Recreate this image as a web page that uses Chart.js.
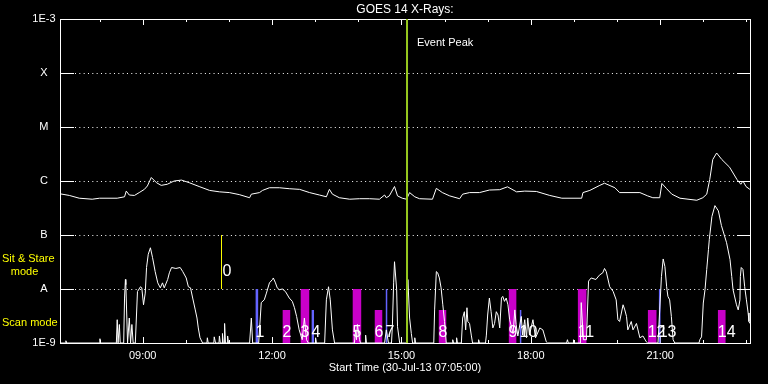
<!DOCTYPE html>
<html><head><meta charset="utf-8">
<script src="https://cdn.jsdelivr.net/npm/chart.js@4/dist/chart.umd.min.js"></script>
<style>html,body{margin:0;padding:0;background:#000;overflow:hidden}canvas{display:block}</style>
</head><body>
<canvas id="c" width="768" height="384"></canvas>
<script>
const FONT = "'Liberation Sans', Arial, sans-serif";
const startHour = 7 + 5/60, endHour = 23 + 5/60;
const yTickValues = [1e-9, 1e-8, 1e-7, 1e-6, 1e-5, 1e-4, 1e-3];
const yTickLabels = ['1E-9', 'A', 'B', 'C', 'M', 'X', '1E-3'];
const gridLevels = [1e-8, 1e-7, 1e-6, 1e-5, 1e-4];
const xLabelHours = [9, 12, 15, 18, 21];
const xLabelTexts = ['09:00', '12:00', '15:00', '18:00', '21:00'];
const xMinorHours = [8, 9, 10, 11, 12, 13, 14, 15, 16, 17, 18, 19, 20, 21, 22, 23];

// GOES 14 long channel (1-8 A), [hour, W/m^2]
const longChannel = [
[7.08,5.8e-7],[7.30,5.4e-7],[7.53,4.8e-7],[7.83,4.6e-7],[8.00,4.8e-7],[8.41,4.8e-7],[8.58,5.1e-7],[8.62,6.5e-7],
[8.69,5.5e-7],[8.81,5.4e-7],[8.92,6.1e-7],[9.04,7.0e-7],[9.11,8.1e-7],[9.20,1.16e-6],[9.32,9.3e-7],[9.43,8.3e-7],
[9.57,8.7e-7],[9.73,1.0e-6],[9.90,1.04e-6],[10.08,9.3e-7],[10.31,7.9e-7],[10.55,6.7e-7],[10.78,6.3e-7],[11.01,6.1e-7],
[11.24,5.6e-7],[11.48,4.9e-7],[11.52,5.7e-7],[11.71,6.1e-7],[11.78,6.7e-7],[11.94,7.5e-7],[12.17,7.5e-7],[12.40,7.2e-7],
[12.64,7.0e-7],[12.87,6.1e-7],[13.10,5.5e-7],[13.26,5.1e-7],[13.33,7.0e-7],[13.40,5.7e-7],[13.56,4.9e-7],[13.80,4.6e-7],
[14.03,4.7e-7],[14.26,4.7e-7],[14.49,4.6e-7],[14.61,5.5e-7],[14.65,4.9e-7],[14.72,5.3e-7],[14.84,7.9e-7],[14.91,5.3e-7],
[15.02,4.8e-7],[15.12,4.6e-7],[15.19,6.1e-7],[15.31,5.1e-7],[15.42,4.7e-7],[15.72,4.6e-7],[15.81,7.3e-7],[15.95,6.1e-7],
[16.12,5.3e-7],[16.35,4.7e-7],[16.42,5.7e-7],[16.58,6.1e-7],[16.81,6.1e-7],[17.04,6.8e-7],[17.28,6.9e-7],[17.46,7.8e-7],
[17.67,6.3e-7],[17.86,6.5e-7],[18.13,6.4e-7],[18.44,5.4e-7],[18.72,4.8e-7],[19.18,4.8e-7],[19.21,6.1e-7],[19.37,6.7e-7],
[19.60,8.3e-7],[19.71,9.1e-7],[19.95,7.5e-7],[20.06,6.1e-7],[20.53,6.1e-7],[20.71,5.3e-7],[20.83,4.9e-7],[20.99,4.9e-7],
[21.04,9.0e-7],[21.15,7.2e-7],[21.27,5.7e-7],[21.46,4.8e-7],[21.85,4.4e-7],[21.99,4.9e-7],[22.08,5.7e-7],[22.15,1.07e-6],
[22.22,2.5e-6],[22.31,3.3e-6],[22.43,2.5e-6],[22.61,1.8e-6],[22.78,1.07e-6],[22.87,8.7e-7],[22.92,1.0e-6],[22.99,7.9e-7],
[23.08,7.0e-7]
];

// GOES 14 short channel (0.5-4 A), [hour, W/m^2]
const shortChannel = [
[7.08,1e-9],[7.21,1e-9],[7.22,1.1e-9],[7.24,1e-9],[8.00,1e-9],[8.01,1.2e-9],[8.02,1e-9],
[8.39,1e-9],[8.41,2.7e-9],[8.43,1e-9],[8.46,2.2e-9],[8.48,1e-9],
[8.56,1e-9],[8.58,6.8e-9],[8.60,1.5e-8],[8.61,1.2e-8],[8.65,1e-9],
[8.69,2.9e-9],[8.72,1e-9],[8.75,2.2e-9],[8.78,1e-9],[8.83,1e-9],
[8.88,9.0e-9],[8.95,1.1e-8],[8.98,1.05e-8],[9.02,5.1e-9],[9.06,8.4e-9],[9.09,2.5e-8],[9.13,4.4e-8],[9.18,5.8e-8],
[9.23,3.8e-8],[9.29,2.1e-8],[9.35,1.3e-8],[9.41,1.05e-8],[9.46,1.3e-8],[9.50,1.05e-8],[9.58,1.5e-8],[9.62,2.0e-8],
[9.67,2.5e-8],[9.77,2.4e-8],[9.87,2.5e-8],[9.93,2.1e-8],[10.01,1.6e-8],[10.06,1.1e-8],[10.11,1.05e-8],[10.16,6.8e-9],
[10.22,4.1e-9],[10.26,2.9e-9],[10.29,1.9e-9],[10.33,1.25e-9],[10.39,1e-9],
[10.49,1e-9],[10.50,1.25e-9],[10.52,1e-9],[10.65,1e-9],[10.66,1.3e-9],[10.69,1e-9],[10.77,1e-9],[10.78,1.35e-9],
[10.80,1e-9],[10.84,1e-9],[10.85,1.5e-9],[10.87,1e-9],[10.89,1e-9],[10.90,2.3e-9],[10.92,1e-9],[10.96,1e-9],
[10.97,1.35e-9],[10.99,1e-9],
[11.48,1e-9],[11.52,2.9e-9],[11.55,1e-9],[11.69,1e-9],
[11.71,1.75e-9],[11.75,5.6e-9],[11.82,6.3e-9],[11.87,8.4e-9],[11.94,1.3e-8],[12.01,1.5e-8],[12.03,1.6e-8],[12.08,1.3e-8],
[12.12,1.05e-8],[12.17,9.7e-9],[12.24,1.0e-8],[12.31,9.0e-9],[12.40,6.8e-9],[12.47,5.9e-9],[12.52,4.5e-9],[12.57,3.1e-9],
[12.63,1.75e-9],[12.70,1.15e-9],[12.75,2.9e-9],[12.80,1.15e-9],[12.84,1e-9],
[13.00,1e-9],[13.01,1.25e-9],[13.03,1e-9],
[13.22,1e-9],[13.26,6.3e-9],[13.31,1.1e-8],[13.35,6.3e-9],[13.40,1.75e-9],[13.45,1e-9],
[13.91,1e-9],[13.94,1.75e-9],[13.96,1.15e-9],[13.98,2.2e-9],[14.03,1.15e-9],[14.05,1e-9],[14.16,1e-9],[14.17,1.4e-9],[14.19,1e-9],
[14.61,1e-9],[14.65,1.75e-9],[14.70,1e-9],[14.77,1e-9],[14.79,2.0e-9],[14.82,1.3e-8],[14.84,3.2e-8],[14.89,9.7e-9],
[14.91,2.0e-9],[14.96,1e-9],
[15.12,1e-9],[15.15,1.5e-8],[15.19,2.9e-9],[15.23,1.5e-9],[15.26,1e-9],[15.30,1e-9],[15.31,1.25e-9],[15.33,1e-9],
[15.75,1e-9],[15.77,4.1e-9],[15.81,2.1e-8],[15.84,2.0e-8],[15.88,1.6e-8],[15.92,1.05e-8],[15.96,5.1e-9],[16.00,2.5e-9],[16.04,1e-9],
[16.18,1e-9],[16.19,1.15e-9],[16.21,1e-9],[16.27,1e-9],[16.28,1.25e-9],[16.30,1e-9],
[16.39,1e-9],[16.42,2.9e-9],[16.46,3.8e-9],[16.49,1.75e-9],[16.52,4.5e-9],[16.54,2.5e-9],[16.58,2.3e-9],[16.62,1.4e-9],[16.65,1e-9],
[16.78,1e-9],[16.79,1.15e-9],[16.81,1e-9],
[16.95,1e-9],[16.97,1.4e-9],[17.00,3.3e-9],[17.04,6.8e-9],[17.08,3.8e-9],[17.12,1.9e-9],[17.16,2.3e-9],[17.20,3.8e-9],
[17.24,3.3e-9],[17.28,1.9e-9],[17.32,6.8e-9],[17.35,7.3e-9],[17.39,5.9e-9],[17.43,6.8e-9],[17.47,5.1e-9],[17.51,2.7e-9],
[17.59,1.5e-9],[17.63,4.1e-9],[17.66,2.2e-9],[17.70,1.35e-9],[17.78,3.1e-9],[17.81,1.4e-9],[17.86,2.7e-9],[17.90,1.25e-9],
[17.93,2.9e-9],[17.97,1.4e-9],[18.05,2.7e-9],[18.11,1.25e-9],[18.21,1.9e-9],[18.28,1.75e-9],[18.36,1.05e-9],[18.39,1e-9],
[18.83,1e-9],[18.85,1.15e-9],[18.87,1e-9],[18.98,1e-9],[18.99,1.15e-9],[19.01,1e-9],
[19.15,1e-9],[19.17,5.6e-9],[19.22,1.15e-9],[19.29,1.15e-9],[19.34,1.4e-8],[19.40,1.6e-8],[19.51,1.5e-8],[19.59,1.8e-8],
[19.67,2.0e-8],[19.71,2.4e-8],[19.75,2.1e-8],[19.83,1.1e-8],[19.91,9.0e-9],[19.98,6.3e-9],[20.02,2.7e-9],[20.06,2.5e-9],
[20.14,5.1e-9],[20.18,4.1e-9],[20.22,3.1e-9],[20.25,1.75e-9],[20.33,2.5e-9],[20.37,1.75e-9],[20.45,2.3e-9],[20.53,1.25e-9],
[20.60,1.35e-9],[20.68,1.05e-9],[20.71,1e-9],
[20.95,1e-9],[20.99,4.1e-9],[21.03,1.7e-8],[21.07,3.6e-8],[21.11,2.6e-8],[21.15,1.1e-8],[21.18,7.3e-9],[21.22,6.3e-9],
[21.26,3.1e-9],[21.30,1.15e-9],[21.34,1e-9],
[21.90,1e-9],[21.92,1.15e-9],[21.96,1.3e-9],[22.00,5.5e-9],[22.04,9.7e-9],[22.08,2.3e-8],[22.12,5.4e-8],[22.14,8.3e-8],
[22.20,2.2e-7],[22.27,3.5e-7],[22.35,2.8e-7],[22.42,1.5e-7],[22.54,7.2e-8],[22.62,3.5e-8],[22.66,1.7e-8],[22.69,9.7e-9],
[22.77,5.1e-9],[22.81,4.1e-9],[22.85,6.3e-9],[22.86,1.7e-8],[22.88,2.5e-8],[22.92,2.3e-8],[22.96,1.1e-8],[23.00,6.3e-9],
[23.04,3.6e-9],[23.06,2.5e-9],[23.08,2.3e-9]
];

// Observations (numbered bars)
const obsLabels = ['1','2','3','4','5','6','7','8','9','10','11','12','13','14'];
const obsStart = [11.614, 12.241, 12.659, 12.913, 13.865, 14.376, 14.632, 15.861, 17.485, 17.741, 19.087, 20.711, 20.966, 22.335];
const obsEnd   = [11.684, 12.427, 12.868, 12.976, 14.074, 14.562, 14.678, 16.046, 17.671, 17.787, 19.296, 20.920, 21.013, 22.521];
const obsTop   = [1e-8, 4.1e-9, 1e-8, 4.1e-9, 1e-8, 4.1e-9, 1e-8, 4.1e-9, 1e-8, 4.1e-9, 1e-8, 4.1e-9, 1e-8, 4.1e-9];
const obsKind  = ['b','m','m','b','m','m','b','m','m','b','m','m','b','m'];
const kindColor = {m: '#c800c8', b: '#6464ff'};

// Sit & stare observation "0"
const sitStareTime = 10.828;
const sitStareRange = [1e-8, 1e-7];
const sitStareLabel = '0';
const sitStareLabelFlux = 2.1e-8;

const eventPeakTime = 15.130;

const toXY = arr => arr.map(p => ({x: p[0], y: p[1]}));

const datasets = [
  {data: [{x: eventPeakTime, y: 1e-9}, {x: eventPeakTime, y: 1e-3}], borderColor: '#96c81e', borderWidth: 2},
  {data: toXY(longChannel), borderColor: '#ffffff', borderWidth: 1},
  {data: toXY(shortChannel), borderColor: '#ffffff', borderWidth: 1},
  {data: [{x: sitStareTime, y: sitStareRange[0]}, {x: sitStareTime, y: sitStareRange[1]}], borderColor: '#ffff00', borderWidth: 1}
];
obsStart.forEach((s, i) => {
  datasets.push({
    data: [{x: s, y: obsTop[i]}, {x: obsEnd[i], y: obsTop[i]}],
    borderWidth: 0, borderColor: 'rgba(0,0,0,0)',
    backgroundColor: kindColor[obsKind[i]], fill: 'start'
  });
});

const decor = {
  id: 'decor',
  beforeDraw(chart) {
    const ctx = chart.ctx;
    ctx.save(); ctx.fillStyle = '#000'; ctx.fillRect(0, 0, chart.width, chart.height); ctx.restore();
  },
  beforeDatasetsDraw(chart) {
    const {ctx, chartArea: a, scales: {x, y}} = chart;
    ctx.save();
    ctx.strokeStyle = '#fff';
    ctx.lineWidth = 1;
    gridLevels.forEach(v => {
      const py = Math.round(y.getPixelForValue(v)) + 0.5;
      ctx.setLineDash([]);
      ctx.beginPath();
      ctx.moveTo(a.left, py); ctx.lineTo(a.left + 14, py);
      ctx.moveTo(a.right - 13, py); ctx.lineTo(a.right, py);
      ctx.stroke();
      ctx.setLineDash([1, 3.33]);
      ctx.beginPath();
      ctx.moveTo(a.left + 15, py); ctx.lineTo(a.right - 13, py);
      ctx.stroke();
    });
    ctx.setLineDash([]);
    ctx.beginPath();
    xMinorHours.forEach(h => {
      const px = Math.round(x.getPixelForValue(h)) + 0.5;
      const len = xLabelHours.includes(h) ? 6 : 3;
      ctx.moveTo(px, a.top); ctx.lineTo(px, a.top + len);
      ctx.moveTo(px, a.bottom); ctx.lineTo(px, a.bottom - len);
    });
    ctx.stroke();
    ctx.strokeRect(Math.round(a.left) + 0.5, Math.round(a.top) + 0.5, Math.round(a.right - a.left), Math.round(a.bottom - a.top));
    ctx.restore();
  },
  afterDatasetsDraw(chart) {
    const {ctx, chartArea: a, scales: {x, y}} = chart;
    ctx.save();
    ctx.textBaseline = 'middle';
    ctx.textAlign = 'left';
    ctx.fillStyle = '#fff';
    ctx.font = '16px ' + FONT;
    obsStart.forEach((s, i) => {
      ctx.fillText(obsLabels[i], x.getPixelForValue(s), a.bottom - 10);
    });
    ctx.fillText(sitStareLabel, x.getPixelForValue(sitStareTime) + 1, y.getPixelForValue(sitStareLabelFlux));
    ctx.font = '11px ' + FONT;
    ctx.fillText('Event Peak', x.getPixelForValue(eventPeakTime) + 10, a.top + 24);
    ctx.fillStyle = '#ffff00';
    ctx.fillText('Sit & Stare', 2, y.getPixelForValue(3.5e-8) - 0.5);
    ctx.textAlign = 'center';
    ctx.fillText('mode', 24.5, y.getPixelForValue(2.1e-8) + 0.5);
    ctx.textAlign = 'left';
    ctx.fillText('Scan mode', 2, y.getPixelForValue(2.5e-9) + 1.5);
    ctx.restore();
  }
};

new Chart(document.getElementById('c'), {
  type: 'line',
  data: {datasets},
  plugins: [decor],
  options: {
    responsive: false,
    devicePixelRatio: 1,
    animation: false,
    layout: {padding: {left: 0, right: 18, top: 0, bottom: 0}},
    elements: {point: {radius: 0, hoverRadius: 0}, line: {tension: 0, fill: false}},
    plugins: {
      legend: {display: false},
      tooltip: {enabled: false},
      title: {
        display: true, text: 'GOES 14 X-Rays:', color: '#fff', fullSize: false,
        font: {family: FONT, size: 12, weight: 'normal'}, padding: {top: 2.6, bottom: 2}
      }
    },
    scales: {
      x: {
        type: 'linear', min: startHour, max: endHour,
        grid: {display: false, drawTicks: false},
        border: {display: false},
        afterBuildTicks: s => { s.ticks = xLabelHours.map(v => ({value: v})); },
        afterFit: s => { s.height = 41; },
        ticks: {
          color: '#fff', font: {family: FONT, size: 11}, padding: 6, autoSkip: false, maxRotation: 0,
          callback: v => { const i = xLabelHours.indexOf(v); return i >= 0 ? xLabelTexts[i] : ''; }
        },
        title: {
          display: true, text: 'Start Time (30-Jul-13 07:05:00)', color: '#fff',
          font: {family: FONT, size: 11}, padding: {top: 0, bottom: 9}
        }
      },
      y: {
        type: 'logarithmic', min: 1e-9, max: 1e-3,
        grid: {display: false, drawTicks: false},
        border: {display: false},
        afterBuildTicks: s => { s.ticks = yTickValues.map(v => ({value: v})); },
        afterFit: s => { s.width = 60; },
        ticks: {
          color: '#fff', font: {family: FONT, size: 11}, padding: 4.5, crossAlign: 'center', autoSkip: false,
          callback: v => {
            const i = yTickValues.findIndex(t => Math.abs(Math.log10(t) - Math.log10(v)) < 1e-6);
            return i >= 0 ? yTickLabels[i] : '';
          }
        }
      }
    }
  }
});
</script>
</body></html>
